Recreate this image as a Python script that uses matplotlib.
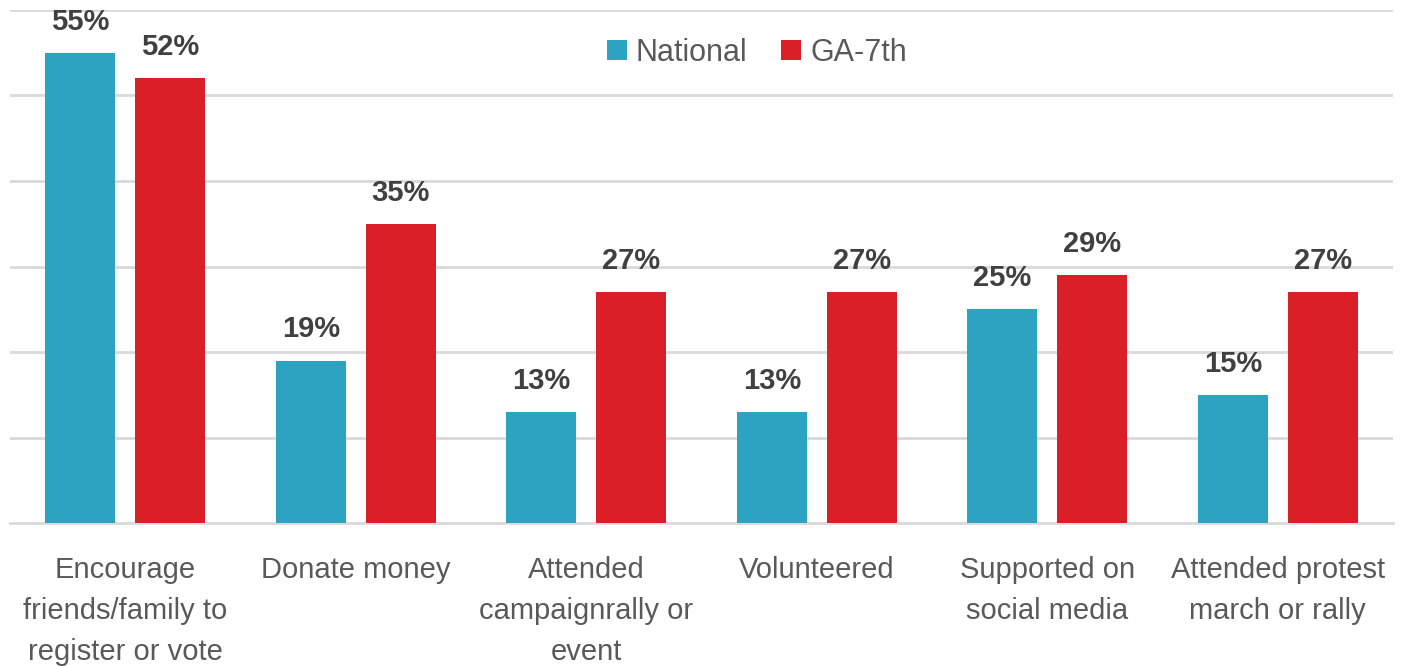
import matplotlib
matplotlib.use("Agg")
import matplotlib.pyplot as plt
import numpy as np

categories = ["Encourage\nfriends/family to\nregister or vote", "Donate money",
              "Attended\ncampaignrally or\nevent", "Volunteered",
              "Supported on\nsocial media", "Attended protest\nmarch or rally"]
national = [55, 19, 13, 13, 25, 15]
ga7 = [52, 35, 27, 27, 29, 27]
series_names = ["National", "GA-7th"]
colors = ["#2ca3c0", "#da1f29"]

plt.rcParams['font.family'] = ['Liberation Sans', 'DejaVu Sans']

fig = plt.figure(figsize=(14.08, 6.66), dpi=100)
ax = fig.add_axes([10/1408, 143/666, 1383/1408, 513/666])

x = np.arange(len(categories))
w = 0.305
off = 0.195
b1 = ax.bar(x - off, national, w, color=colors[0], label=series_names[0], zorder=3)
b2 = ax.bar(x + off, ga7, w, color=colors[1], label=series_names[1], zorder=3)

for bars, vals in ((b1, national), (b2, ga7)):
    for r, v in zip(bars, vals):
        ax.text(r.get_x() + r.get_width()/2, v + 2.0, f"{v}%", ha='center', va='bottom',
                fontsize=21, fontweight='bold', color='#404040', zorder=4, clip_on=False)

ax.set_xlim(-0.5, len(categories) - 0.5)
ax.set_ylim(0, 60)
ax.set_yticks([10, 20, 30, 40, 50, 60])
ax.yaxis.grid(True, color='#d9d9d9', linewidth=2, zorder=0)
ax.tick_params(axis='y', left=False, labelleft=False)
ax.tick_params(axis='x', bottom=False, pad=20)
ax.set_xticks(x)
ax.set_xticklabels(categories, fontsize=21, color='#595959', linespacing=1.6, va='top')
for s in ['top', 'right', 'left']:
    ax.spines[s].set_visible(False)
ax.spines['bottom'].set_color('#d9d9d9')
ax.spines['bottom'].set_linewidth(2)

leg = ax.legend(loc='upper center', bbox_to_anchor=(0.54, 1.0), ncol=2, frameon=False,
                fontsize=22, handlelength=0.65, handleheight=0.65, handletextpad=0.3,
                columnspacing=1.1, labelcolor='#595959')

fig.savefig("out.png", dpi=100)
